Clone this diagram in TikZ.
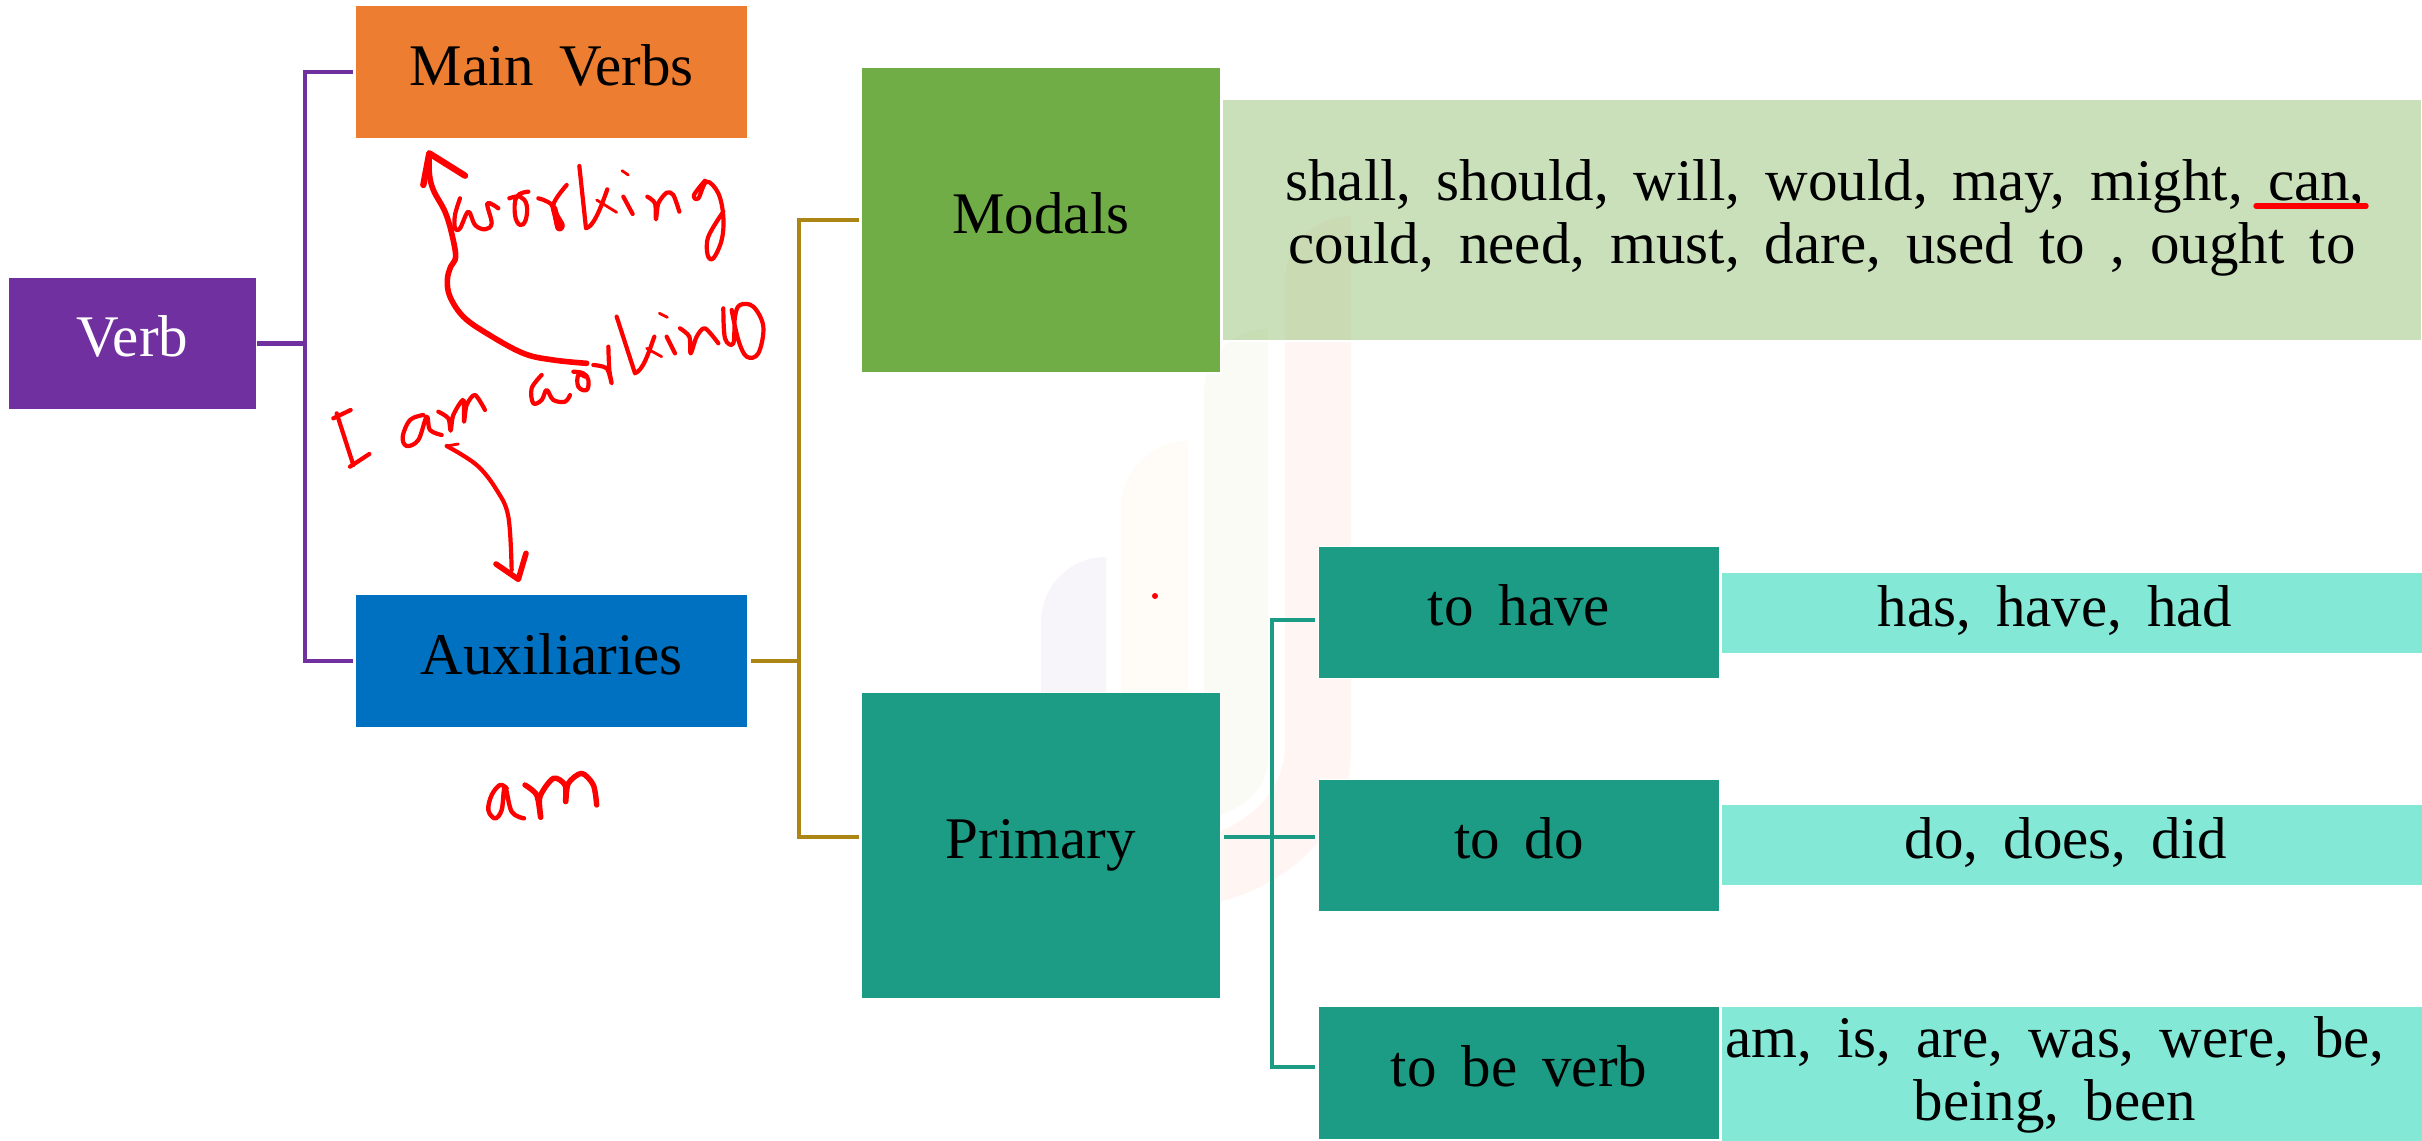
\documentclass[tikz,border=0pt]{standalone}
\usepackage{fontspec}
\setmainfont{Liberation Serif}[WordSpace=1.7]
\definecolor{cPurple}{HTML}{7030A0}
\definecolor{cOrange}{HTML}{ED7D31}
\definecolor{cBlue}{HTML}{0070C0}
\definecolor{cGreen}{HTML}{70AD47}
\definecolor{cTeal}{HTML}{1C9C85}
\definecolor{cLight}{HTML}{84E8D6}
\definecolor{cGold}{HTML}{AC8614}
\definecolor{wA}{HTML}{F7F5FA}
\definecolor{wB}{HTML}{FFFCF7}
\definecolor{wC}{HTML}{FBFBF6}
\definecolor{wD}{HTML}{FFF6F4}
\tikzset{
  box/.style={rectangle,draw=white,line width=.6pt,outer sep=0pt,inner sep=0pt,align=center,font=\fontsize{29.5}{31.5}\selectfont},
  one/.style={box,text height=22pt,text depth=9pt},
  purplebox/.style={one,fill=cPurple,text=white},
  tealbox/.style={one,fill=cTeal},
  lightbox/.style={one,fill=cLight},
  link/.style={line width=2.2pt},
  ink/.style={draw=red,line width=2.1pt,line cap=round,line join=round},
  inkb/.style={ink,line width=2.8pt},
  inkc/.style={ink,line width=1.4pt}
}
\begin{document}
\begin{tikzpicture}[x=0.5pt,y=-0.5pt]
\useasboundingbox (0,0) rectangle (2422,1141);
\fill[white] (0,0) rectangle (2422,1141);
% watermark
\fill[wA] (1041,800) -- (1041,622) .. controls (1041,586) and (1070,557) .. (1106,557) -- (1106,800) -- cycle;
\fill[wB] (1121,800) -- (1121,507) .. controls (1121,471) and (1152,441) .. (1188,441) -- (1188,800) -- cycle;
\fill[wC] (1204,840) -- (1204,393) .. controls (1204,357) and (1232,329) .. (1268,329) -- (1268,757) .. controls (1268,790) and (1245,810) .. (1200,822) -- cycle;
\fill[wD] (1200,906) .. controls (1290,890) and (1351,830) .. (1351,750) -- (1351,216) .. controls (1315,216) and (1285,244) .. (1285,280) -- (1285,745) .. controls (1285,790) and (1250,825) .. (1200,838) -- cycle;
% boxes
\node[purplebox,minimum width=124.25pt,minimum height=66.25pt] (verb) at (132.5,343.5) {Verb};
\node[one,fill=cOrange,minimum width=196pt,minimum height=66.75pt] (main) at (551.75,72) {Main Verbs};
\node[one,fill=cBlue,minimum width=196pt,minimum height=66.75pt] (aux) at (551.75,661) {Auxiliaries};
\node[one,fill=cGreen,minimum width=179.5pt,minimum height=153pt] (modals) at (1041,220) {Modals};
\node[tealbox,minimum width=179.5pt,minimum height=153.25pt] (primary) at (1041,845.5) {Primary};
\node[box,fill=cGreen,fill opacity=.37,text opacity=1,text height=50pt,text depth=7pt,minimum width=600pt,minimum height=121pt] (modallist) at (1822,220)
  {\hspace*{3pt}shall, should, will, would, may, might, can,\\could, need, must, dare, used to , ought to};
\node[tealbox,minimum width=200.75pt,minimum height=66.25pt] (have) at (1519,612.5) {to have};
\node[tealbox,minimum width=200.75pt,minimum height=66.25pt] (do) at (1519,845.5) {to do};
\node[tealbox,minimum width=200.75pt,minimum height=66.5pt] (be) at (1519,1073) {to be verb};
\node[lightbox,minimum width=350.5pt,minimum height=41pt] (hasl) at (2072,613) {\hspace*{-17pt}has, have, had};
\node[lightbox,minimum width=350.5pt,minimum height=41pt] (dol) at (2072,845) {\hspace*{-6pt}do, does, did};
\node[box,fill=cLight,text height=53pt,text depth=7pt,minimum width=350.5pt,minimum height=68pt] (bel) at (2072,1074.5)
  {\hspace*{-17pt}am, is, are, was, were, be,\\\hspace*{-17pt}being, been};
% connectors
\coordinate (ptrunk) at (305,343.5);
\coordinate (gtrunk) at (799,661);
\coordinate (gmid) at (799,837);
\coordinate (ttop) at (1272,620);
\coordinate (tmid) at (1272,837);
\coordinate (tbot) at (1272,1067);
\draw[link,cPurple] (verb.east) -- (ptrunk);
\draw[link,cPurple,shorten >=1.5pt] (main.west) ++(-1.5pt,0) -| (ptrunk |- aux.west) -- (aux.west);
\draw[link,cGold,shorten <=1.5pt] (aux.east) -- (gtrunk);
\draw[link,cGold,shorten >=1.5pt] (modals.west) ++(-1.5pt,0) -| (gmid) -- (primary.west |- gmid);
\draw[link,cTeal,shorten <=1.5pt,shorten >=1.5pt] (primary.east |- tmid) -- (do.west |- tmid);
\draw[link,cTeal,shorten >=1.5pt] (have.west |- ttop) ++(-1.5pt,0) -- (ttop) -- (tbot) -- (be.west |- tbot);
% hand writing
\draw[ink,line width=2.7pt] (2256,206) -- (2366,206);
\fill[red] (1155,596) circle (3);
\begin{scope}[shift={(410,140)},scale=1/3]
\draw[inkb] plot[smooth,tension=.6] coordinates {(530,670)(430,660)(340,640)(230,580)(160,530)(120,470)(112,420)(122,380)(137,350)(125,280)(105,215)(70,150)(58,100)(58,40)};
\draw[inkb,line width=3.2pt] (40,135) -- (58,40) -- (165,107);
\draw[ink] plot[smooth,tension=.6] coordinates {(150,175)(135,225)(135,265)(150,265)(175,215)(195,255)(225,268)(245,250)(232,190)(265,205)};
\draw[ink] plot[smooth,tension=.7] coordinates {(355,155)(320,170)(315,225)(330,255)(347,240)(350,195)(330,170)(298,175)};
\draw[ink] plot[smooth,tension=.5] coordinates {(385,175)(425,195)(443,265)(458,255)(430,195)(470,135)};
\draw[ink,line width=3.2pt] (432,205) -- (447,260);
\draw[ink] (508,78) -- (528,265) .. controls (550,260) and (570,210) .. (592,148);
\draw[inkc] (560,180) -- (620,217);
\draw[ink] (640,170) -- (668,222);
\draw[inkc] (636,92) -- (655,105);
\draw[ink] plot[smooth,tension=.5] coordinates {(712,170)(735,190)(738,238)(745,190)(770,158)(790,165)(808,215)};
\draw[ink] plot[smooth,tension=.6] coordinates {(885,122)(852,165)(865,175)(890,125)(925,160)(940,230)(935,300)(910,355)(893,345)(895,290)(940,215)};
\draw[ink] (620,530) -- (675,700) .. controls (700,690) and (715,640) .. (733,590);
\draw[inkc] (710,625) -- (755,650);
\draw[ink] (770,590) -- (795,640);
\draw[inkc] (748,520) -- (772,532);
\draw[ink] plot[smooth,tension=.5] coordinates {(810,565)(838,590)(842,640)(860,590)(885,565)(925,610)};
\draw[ink] plot[smooth,tension=.6] coordinates {(940,505)(945,595)(970,610)(975,530)(990,495)(1030,500)(1060,560)(1045,640)(1010,650)(985,600)(965,510)};
\end{scope}
\begin{scope}[shift={(320,340)},scale=1/3]
\draw[ink] plot[smooth,tension=.6] coordinates {(665,105)(635,145)(640,190)(665,180)(680,150)(700,180)(735,185)(750,165)};
\draw[ink] plot[smooth,tension=.7] coordinates {(795,110)(775,105)(775,140)(800,150)(805,120)(790,100)(760,95)};
\draw[ink] plot[smooth,tension=.5] coordinates {(820,75)(860,85)(875,130)(868,90)(865,20)};
\draw[ink] (92,210) -- (40,235);
\draw[ink] (50,220) -- (100,375);
\draw[ink] (90,380) -- (148,342);
\draw[ink] plot[smooth,tension=.6] coordinates {(310,225)(270,240)(248,290)(260,318)(295,300)(320,230)(330,270)(365,285)};
\draw[ink] plot[smooth,tension=.5] coordinates {(355,215)(385,235)(392,272)(400,225)(430,180)(432,245)(440,195)(465,165)(495,210)};
\draw[ink] plot[smooth,tension=.6] coordinates {(380,318)(470,375)(530,450)(565,530)(575,690)};
\draw[inkc] (380,318) -- (415,312);
\draw[inkb] (528,672) -- (595,718) -- (618,640);
\end{scope}
\begin{scope}[shift={(470,740)},scale=1/3]
\draw[ink,line width=2.2pt] plot[smooth,tension=.6] coordinates {(110,145)(90,135)(65,165)(55,210)(75,235)(95,210)(105,140)(125,215)(162,235)};
\draw[ink,line width=2.7pt] plot[smooth,tension=.5] coordinates {(165,135)(200,165)(212,232)(210,170)(250,115)(285,135)(287,185)(295,130)(335,100)(370,135)(380,195)};
\end{scope}
\end{tikzpicture}
\end{document}
